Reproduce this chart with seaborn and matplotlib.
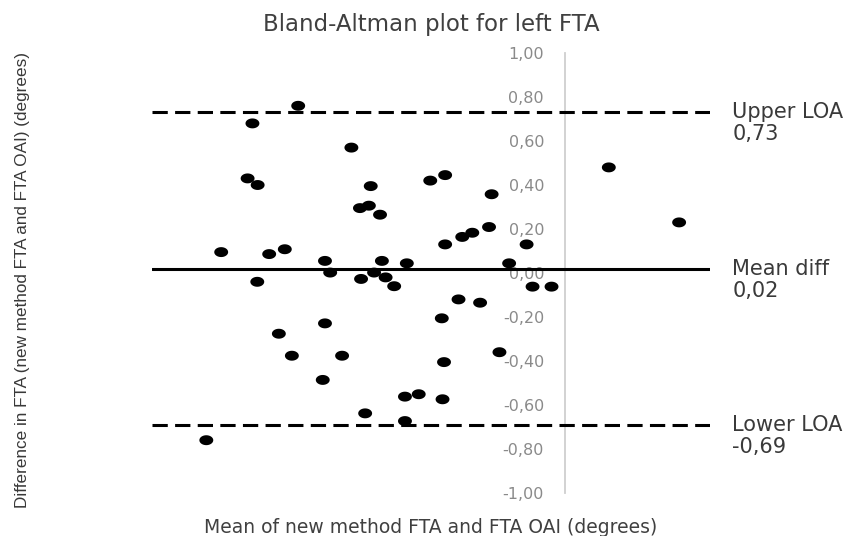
import numpy as np
import pandas as pd
import seaborn as sns
import matplotlib
matplotlib.use("Agg")
import matplotlib.pyplot as plt
from matplotlib.path import Path

# ---- data ----
mean_vals = [171.46, 171.86, 172.57, 172.70, 172.84, 172.83, 173.15, 173.41, 173.57, 173.76,
             173.93, 174.59, 174.65, 174.65, 174.79, 175.11, 175.36, 175.59, 175.62, 175.73,
             175.83, 175.88, 175.97, 176.13, 176.18, 176.28, 176.51, 176.80, 176.80, 176.85,
             177.17, 177.48, 177.79, 177.81, 177.85, 177.88, 177.88, 178.24, 178.34, 178.61,
             178.82, 179.06, 179.13, 179.34, 179.60, 180.07, 180.23, 180.74, 182.28, 184.17]
diff_vals = [-0.76, 0.095, 0.43, 0.68, 0.40, -0.04, 0.086, -0.276, 0.108, -0.376,
             0.76, -0.486, 0.055, -0.229, 0.002, -0.376, 0.57, 0.295, -0.027, -0.638,
             0.306, 0.395, 0.002, 0.265, 0.055, -0.02, -0.06, -0.562, -0.673, 0.044,
             -0.551, 0.42, -0.206, -0.574, -0.405, 0.445, 0.13, -0.12, 0.164, 0.183,
             -0.135, 0.209, 0.358, -0.36, 0.044, 0.13, -0.062, -0.062, 0.48, 0.23]
mean_diff = 0.02
upper_loa = 0.73
lower_loa = -0.69
y_ticks = [-1.0, -0.8, -0.6, -0.4, -0.2, 0.0, 0.2, 0.4, 0.6, 0.8, 1.0]
y_tick_labels = ["-1,00", "-0,80", "-0,60", "-0,40", "-0,20", "0,00",
                 "0,20", "0,40", "0,60", "0,80", "1,00"]
line_labels = [("Upper LOA", "0,73", upper_loa),
               ("Mean diff", "0,02", mean_diff),
               ("Lower LOA", "-0,69", lower_loa)]
axis_cross_x = 181.1

sns.set_theme(style="white")
plt.rcParams["font.family"] = ["DejaVu Sans"]

fig = plt.figure(figsize=(8.57, 5.36), dpi=100)
ax = fig.add_axes([152 / 857, 43 / 536, 558 / 857, 440 / 536])

df = pd.DataFrame({"mean": mean_vals, "diff": diff_vals})
t = np.linspace(0, 2 * np.pi, 64)
ellipse = Path(np.column_stack([1.4 * np.cos(t), np.sin(t)]), closed=True)

sns.scatterplot(data=df, x="mean", y="diff", marker=ellipse, s=100,
                color="black", edgecolor="none", linewidth=0, ax=ax,
                legend=False, zorder=3)

dash = (0, (5, 2.4))
ax.axhline(upper_loa, color="black", lw=2.2, linestyle=dash, zorder=2)
ax.axhline(lower_loa, color="black", lw=2.2, linestyle=dash, zorder=2)
ax.axhline(mean_diff, color="black", lw=2.2, zorder=2)

ax.set_xlim(170, 185)
ax.set_ylim(-1, 1)
for s in ["top", "right", "bottom"]:
    ax.spines[s].set_visible(False)
ax.spines["left"].set_position(("data", axis_cross_x))
ax.spines["left"].set_color("#cfcfcf")
ax.spines["left"].set_linewidth(1.3)
ax.spines["left"].set_zorder(1)

ax.set_xticks([])
ax.set_yticks(y_ticks)
ax.set_yticklabels(y_tick_labels)
ax.tick_params(axis="y", length=0, pad=15, labelcolor="#8a8a8a", labelsize=11.5)
ax.set_xlabel("")
ax.set_ylabel("")

for name, val_txt, val in line_labels:
    ax.text(1.04, val, name, transform=ax.get_yaxis_transform(),
            ha="left", va="center", fontsize=15, color="#3a3a3a")
    ax.text(1.04, val - 0.1, val_txt, transform=ax.get_yaxis_transform(),
            ha="left", va="center", fontsize=15, color="#3a3a3a")

ax.set_title("Bland-Altman plot for left FTA", fontsize=16.5, color="#404040",
             y=1.05, pad=0)
ax.set_xlabel("Mean of new method FTA and FTA OAI (degrees)", fontsize=13.5,
              color="#404040")
ax.xaxis.set_label_coords(0.5, -0.056)

fig.text(23 / 857, 1 - 280 / 536,
         "Difference in FTA (new method FTA and FTA OAI) (degrees)",
         rotation=90, ha="center", va="center", fontsize=12.3,
         color="#383838", family=["Liberation Sans", "DejaVu Sans"])

fig.savefig("out.png", dpi=100)
